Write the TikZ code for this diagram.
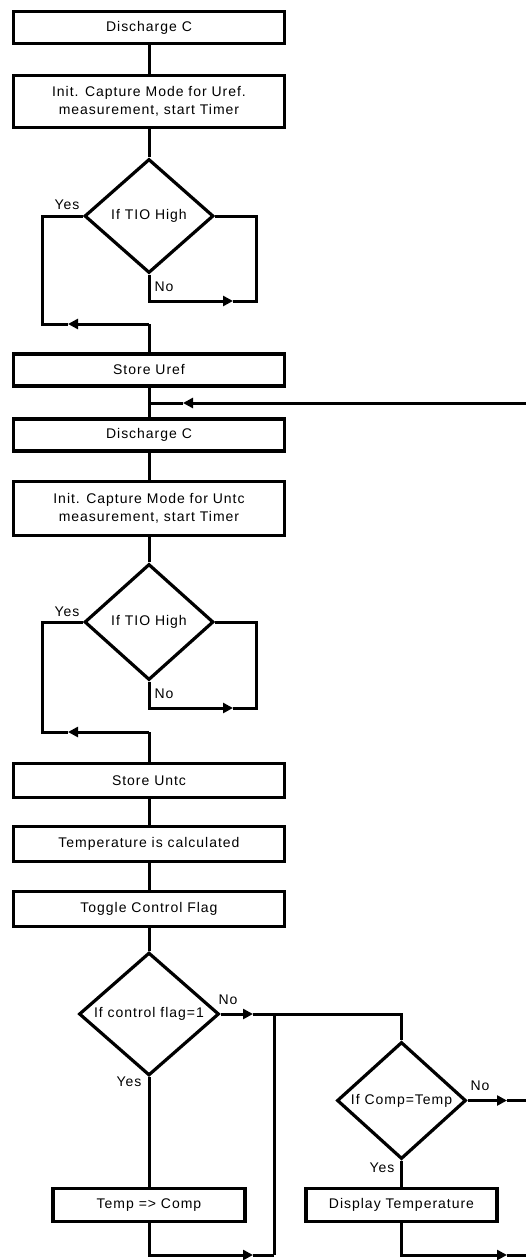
\documentclass[tikz,border=0pt]{standalone}
\usepackage{fontspec}
\setmainfont{Liberation Sans}[LetterSpace=7]
\usetikzlibrary{arrows.meta,shapes.geometric,positioning}

\begin{document}
\begin{tikzpicture}[>={Triangle[length=10pt,width=10pt]},
  font=\fontsize{14}{17.5}\selectfont,
  box/.style={draw,line width=3.4pt,minimum width=271pt,minimum height=#1,inner sep=0pt,align=center},
  box/.default=32pt,
  test/.style={draw,diamond,line width=3.2pt,minimum width=129pt,minimum height=114pt,inner sep=0pt},
  flow/.style={line width=3pt},
  lbl/.style={inner sep=0pt}]

\useasboundingbox (0,0) rectangle (526pt,-1260pt);

% main column
\node[box]        (d1) at (149pt,-27.5pt) {Discharge C};
\node[box=52pt]   (i1) [node distance=74pt,below of=d1]    {Init. Capture Mode for Uref.\\measurement, start Timer};
\node[test]       (t1) [node distance=114.5pt,below of=i1] {If TIO High};
\node[box]        (s1) [node distance=154pt,below of=t1]   {Store Uref};
\node[box]        (d2) [node distance=65pt,below of=s1]    {Discharge C};
\node[box=54pt]   (i2) [node distance=73.5pt,below of=d2]  {Init. Capture Mode for Untc\\measurement, start Timer};
\node[test,minimum height=116pt] (t2) [node distance=113.5pt,below of=i2] {If TIO High};
\node[box,minimum height=34pt] (s2) [node distance=158.5pt,below of=t2] {Store Untc};
\node[box,minimum height=35pt] (calc) [node distance=63.5pt,below of=s2] {Temperature is calculated};
\node[box,minimum height=35pt] (tog) [node distance=65pt,below of=calc] {Toggle Control Flag};
\node[test,minimum width=140pt,minimum height=118pt] (t3) [node distance=105pt,below of=tog] {If control flag=1};
\node[box=33pt,minimum width=192pt] (cmp) [node distance=191pt,below of=t3] {Temp => Comp};

% right branch
\node[test,minimum height=117pt] (t4) at (401.5pt,-1100.5pt) {If Comp=Temp};
\node[box=33pt,minimum width=191pt] (disp) [node distance=104.5pt,below of=t4] {Display Temperature};

% labels
\node[lbl] (y1) at (67pt,-205pt)   {Yes};
\node[lbl] (n1) at (164pt,-287pt)  {No};
\node[lbl] (y2) at (67pt,-612pt)   {Yes};
\node[lbl] (n2) at (164pt,-694pt)  {No};
\node[lbl] (n3) at (228pt,-1000pt) {No};
\node[lbl] (y3) at (129pt,-1082pt) {Yes};
\node[lbl] (n4) at (480pt,-1086pt) {No};
\node[lbl] (y4) at (382pt,-1168pt) {Yes};

% bends and arrow tips
\coordinate (c1) at (256pt,-301pt);
\coordinate (a1) at (233pt,-301pt);
\coordinate (c2) at (42pt,-324pt);
\coordinate (a2) at (68pt,-324pt);
\coordinate (j1) at (149pt,-324pt);
\coordinate (r1) at (526pt,-403pt);
\coordinate (a3) at (183pt,-403pt);
\coordinate (j2) at (149pt,-403pt);
\coordinate (c3) at (256pt,-708pt);
\coordinate (a4) at (233pt,-708pt);
\coordinate (c4) at (42pt,-732pt);
\coordinate (a5) at (68pt,-732pt);
\coordinate (j3) at (149pt,-732pt);
\coordinate (a6) at (253pt,-1014pt);
\coordinate (j4) at (274pt,-1014pt);
\coordinate (b1) at (274pt,-1255pt);
\coordinate (a7) at (253pt,-1255pt);
\coordinate (a8) at (507pt,-1100.5pt);
\coordinate (r2) at (526pt,-1100.5pt);
\coordinate (a9) at (507pt,-1255pt);
\coordinate (r3) at (526pt,-1255pt);

\path[flow] (d1) edge (i1)
            (i1) edge (t1)
            (s1) edge (d2)
            (d2) edge (i2)
            (i2) edge (t2)
            (s2) edge (calc)
            (calc) edge (tog)
            (tog) edge (t3)
            (t3) edge (cmp)
            (t4) edge (disp);

% first test loop
\draw[flow,->] (t1.south) |- (a1);
\draw[flow] (a1) -- (c1) |- (t1.east);
\draw[flow] (t1.west) -| (c2) -- (a2);
\draw[flow,->] (j1) -- (a2);
\draw[flow] (j1) -- (s1);

% return line
\draw[flow,->] (r1) -- (a3);
\draw[flow] (a3) -- (j2);

% second test loop
\draw[flow,->] (t2.south) |- (a4);
\draw[flow] (a4) -- (c3) |- (t2.east);
\draw[flow] (t2.west) -| (c4) -- (a5);
\draw[flow,->] (j3) -- (a5);
\draw[flow] (j3) -- (s2);

% control flag branches
\draw[flow,->] (t3.east) -- (a6);
\draw[flow] (a6) -| (t4.north);
\draw[flow] (j4) -- (b1);
\draw[flow,->] (cmp.south) |- (a7);
\draw[flow] (a7) -- (b1);
\draw[flow,->] (t4.east) -- (a8);
\draw[flow] (a8) -- (r2);
\draw[flow,->] (disp.south) |- (a9);
\draw[flow] (a9) -- (r3);

\end{tikzpicture}
\end{document}
